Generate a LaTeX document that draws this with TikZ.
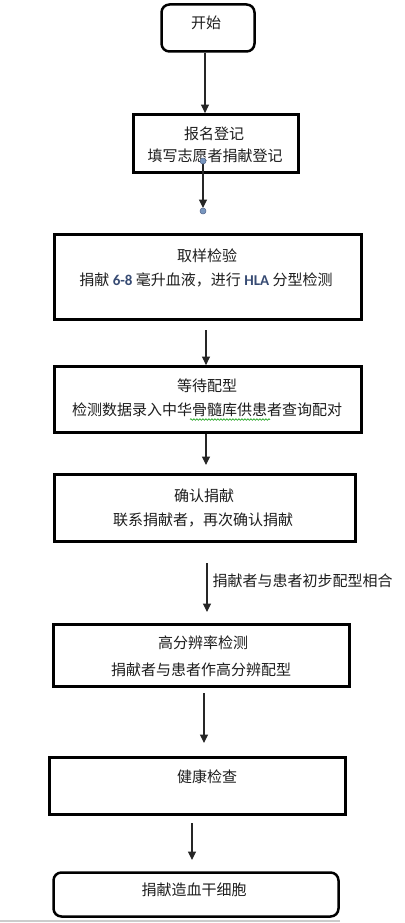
\documentclass[tikz,border=0pt]{standalone}
\usepackage{fontspec}
\setmainfont{Noto Sans CJK SC}
\newfontfamily\latinb{Carlito}
\usetikzlibrary{arrows.meta,decorations.pathmorphing}
\definecolor{numblue}{RGB}{55,75,115}
\definecolor{dotfill}{RGB}{120,150,190}
\definecolor{dotline}{RGB}{80,100,140}
\definecolor{txt}{RGB}{30,30,30}
\tikzset{
  rbox/.style={draw=black, line width=2.8pt, inner sep=0pt, fill=white},
  rndbox/.style={draw=black, line width=2.5pt, rounded corners=8pt, inner sep=0pt, fill=white},
  lbl/.style={inner sep=0pt, text=txt, font=\fontsize{15}{18}\selectfont},
  arr/.style={draw=black!85, line width=1.05pt, -{Triangle[width=8pt,length=8.5pt]}},
  bdot/.style={circle, fill=dotfill, draw=dotline, line width=0.5pt, minimum size=6pt, inner sep=0pt}
}
\begin{document}
\begin{tikzpicture}[x=1pt,y=-1pt]
\useasboundingbox (0,0) rectangle (404,923);
\fill[white] (0,0) rectangle (404,923);

% boxes
\node[rndbox, minimum width=93pt, minimum height=47pt] (b1) at (208,28) {};
\node[rbox, minimum width=165pt, minimum height=58pt] (b2) at (216,143.5) {};
\node[rbox, minimum width=307pt, minimum height=85pt] (b3) at (208,277) {};
\node[rbox, minimum width=307pt, minimum height=66pt] (b4) at (208,399.5) {};
\node[rbox, minimum width=301pt, minimum height=67pt] (b5) at (205,508) {};
\node[rbox, minimum width=296pt, minimum height=62pt] (b6) at (201.5,655.5) {};
\node[rbox, minimum width=296pt, minimum height=57pt] (b7) at (197.5,786) {};
\node[rndbox, minimum width=285pt, minimum height=44pt] (b8) at (196,894.5) {};

% texts
\node[lbl] (t1) at (206,23) {开始};
\node[lbl] (t2a) at (214,134) {报名登记};
\node[lbl] (t2b) at (215,155.5) {填写志愿者捐献登记};
\node[lbl] (t3a) at (207,256) {取样检验};
\node[lbl] (t3b) at (206,280) {捐献 {\latinb\bfseries\color{numblue}6-8} 毫升血液，进行 {\latinb\bfseries\color{numblue}HLA} 分型检测};
\node[lbl] (t4a) at (207,386) {等待配型};
\node[lbl] (t4b) at (207,410) {检测数据录入中华骨髓库供患者查询配对};
\node[lbl] (t5a) at (204,496) {确认捐献};
\node[lbl] (t5b) at (203,520) {联系捐献者，再次确认捐献};
\node[lbl] (t6a) at (203,643) {高分辨率检测};
\node[lbl] (t6b) at (201,669.5) {捐献者与患者作高分辨配型};
\node[lbl] (t7) at (207,777) {健康检查};
\node[lbl] (t8) at (194,890) {捐献造血干细胞};

% spell-check underline
\coordinate (w1) at (190,419.5);
\coordinate (w2) at (270,419.5);
\draw[green!60!black, line width=0.6pt, decorate, decoration={snake, segment length=3pt, amplitude=0.8pt}] (w1) -- (w2);

% connectors
\coordinate (x1) at (205,0);
\coordinate (d1) at (203,161);
\coordinate (d2) at (203,211);
\coordinate (c3) at (206,330);
\coordinate (e4) at (206,465);
\coordinate (c5) at (207,563);
\coordinate (e5) at (207,612);
\coordinate (c6) at (204,693);
\coordinate (e6) at (204,743);
\coordinate (c7) at (192,823);
\coordinate (e7) at (192,860);

\draw[arr] (b1.south -| x1) -- (b2.north -| x1);
\draw[arr, shorten >=3pt] (d1) -- (d2);
\node[bdot] (dot1) at (d1) {};
\node[bdot] (dot2) at (d2) {};
\draw[arr] (c3) -- (b4.north -| c3);
\draw[arr] (b4.south -| e4) -- (e4);
\draw[arr] (c5) -- node[lbl, right=5pt, pos=0.37] (lab) {捐献者与患者初步配型相合} (e5);
\draw[arr] (c6) -- (e6);
\draw[arr] (c7) -- (e7);

% bottom edge line
\coordinate (g1) at (0,921);
\coordinate (g2) at (340,921);
\draw[black!20, line width=1.5pt] (g1) -- (g2);
\end{tikzpicture}
\end{document}
